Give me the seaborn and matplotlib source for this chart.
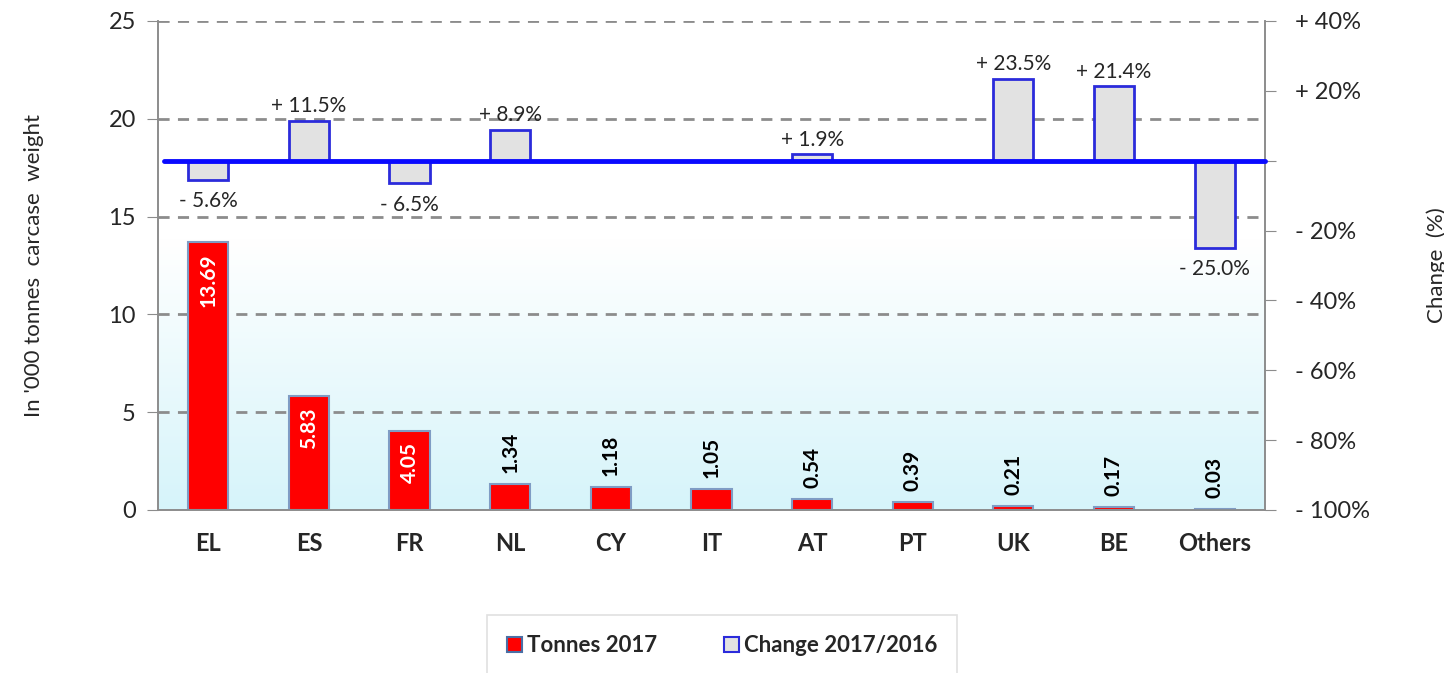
import numpy as np
import pandas as pd
import matplotlib.pyplot as plt
import seaborn as sns
from matplotlib.patches import Patch
from matplotlib.colors import LinearSegmentedColormap

# data
countries = ['EL', 'ES', 'FR', 'NL', 'CY', 'IT', 'AT', 'PT', 'UK', 'BE', 'Others']
tonnes_2017 = [13.69, 5.83, 4.05, 1.34, 1.18, 1.05, 0.54, 0.39, 0.21, 0.17, 0.03]
change_pct = [-5.6, 11.5, -6.5, 8.9, np.nan, np.nan, 1.9, np.nan, 23.5, 21.4, -25.0]
right_ticks = [-100, -80, -60, -40, -20, 0, 20, 40]
right_tick_labels = ['- 100%', '- 80%', '- 60%', '- 40%', '- 20%', '', '+ 20%', '+ 40%']

df = pd.DataFrame({'country': countries, 'tonnes': tonnes_2017, 'change': change_pct})

sns.set_style('white')
plt.rcParams['font.family'] = ['Lato', 'DejaVu Sans']

fig = plt.figure(figsize=(14.44, 6.73), dpi=100)
ax = fig.add_axes([0.1094, 0.2422, 0.7666, 0.7266])

# light cyan gradient background
grad = np.linspace(0, 1, 256).reshape(-1, 1)
cmap = LinearSegmentedColormap.from_list('bg', [(0, '#d6f4fa'), (0.55, '#ffffff'), (1, '#ffffff')])
ax.imshow(grad, extent=[0, 1, 0, 1], transform=ax.transAxes, cmap=cmap,
          aspect='auto', origin='lower', zorder=0)

grid_col = '#8c8c8c'
for v in [5, 10, 15, 20, 25]:
    ax.axhline(v, color=grid_col, lw=2, ls=(0, (4, 3)), zorder=1)

sns.barplot(data=df, x='country', y='tonnes', ax=ax, color='#ff0000', width=0.4,
            edgecolor='#7f9cc4', linewidth=1.5, saturation=1, zorder=3)

ax.set_xlim(-0.5, 10.5)
ax.set_ylim(0, 25)
ax.set_yticks([0, 5, 10, 15, 20, 25])

for i, v in enumerate(tonnes_2017):
    if v > 3:
        ax.annotate(f'{v:.2f}', (i, v), xytext=(0, -8), textcoords='offset points',
                    rotation=90, ha='center', va='top', color='white',
                    fontsize=15, fontweight='bold', zorder=5)
    else:
        ax.annotate(f'{v:.2f}', (i, v), xytext=(0, 8), textcoords='offset points',
                    rotation=90, ha='center', va='bottom', color='black',
                    fontsize=15, fontweight='bold', zorder=5)

# secondary axis with the change bars
ax2 = ax.twinx()
sns.barplot(data=df, x='country', y='change', ax=ax2, color='#e2e2e2', width=0.4,
            edgecolor='#2b2bdb', linewidth=2, saturation=1, zorder=3)
ax2.axhline(0, color='#0a0aff', lw=3.5, zorder=4, xmin=0.005, xmax=1.0, clip_on=False)
ax2.set_ylim(-100, 40)
ax2.set_xlim(-0.5, 10.5)
ax2.set_yticks(right_ticks)
ax2.set_yticklabels(right_tick_labels)

for i, v in enumerate(change_pct):
    if np.isnan(v):
        continue
    if v >= 0:
        ax2.annotate(f'+ {v:.1f}%', (i, v), xytext=(0, 3), textcoords='offset points',
                     ha='center', va='bottom', fontsize=15, zorder=5)
    else:
        ax2.annotate(f'- {abs(v):.1f}%', (i, v), xytext=(0, -8), textcoords='offset points',
                     ha='center', va='top', fontsize=15, zorder=5)

# spines and ticks
for a in (ax, ax2):
    a.spines['top'].set_visible(False)
    for s in ['left', 'right', 'bottom']:
        a.spines[s].set_color(grid_col)
        a.spines[s].set_linewidth(1.2)

ax.set_xticks(range(len(countries)))
ax.set_xticklabels(countries, fontsize=17, fontweight='bold')
ax.set_xticks(np.arange(-0.5, 11, 1), minor=True)
ax.tick_params(axis='x', which='major', direction='in', length=5, color=grid_col, pad=16)
ax.tick_params(axis='x', which='minor', direction='out', length=8, color=grid_col)
ax.tick_params(axis='y', direction='out', length=8, color=grid_col, labelsize=17, pad=8)
ax2.tick_params(axis='y', direction='out', length=8, color=grid_col, labelsize=17, pad=14)
ax2.tick_params(axis='x', length=0)

ax.set_xlabel('')
ax.set_ylabel("In '000 tonnes  carcase  weight", fontsize=16, labelpad=46)
ax2.set_ylabel('Change  (%)', fontsize=16, labelpad=40)

handles = [Patch(facecolor='#ff0000', edgecolor='#4a6fa5', linewidth=1.5, label='Tonnes 2017'),
           Patch(facecolor='#e2e2e2', edgecolor='#2b2bdb', linewidth=1.5, label='Change 2017/2016')]
leg = fig.legend(handles=handles, loc='upper center', bbox_to_anchor=(0.5, 0.086), ncol=2,
                 frameon=True, fancybox=False, handlelength=0.7, handleheight=0.7,
                 handletextpad=0.2, columnspacing=3.0, borderpad=0.9, borderaxespad=0,
                 prop={'weight': 'bold', 'size': 16})
leg.get_frame().set_edgecolor('#d9d9d9')
leg.get_frame().set_linewidth(1.2)

fig.savefig('out.png', dpi=100)
